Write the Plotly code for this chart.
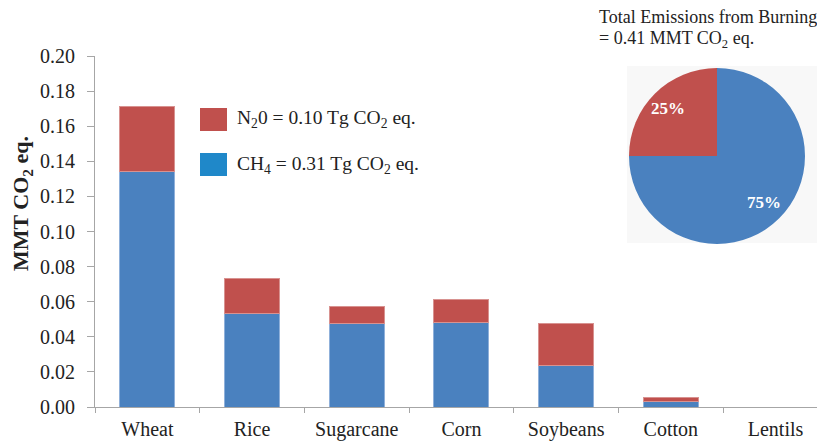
import plotly.graph_objects as go

crops = ["Wheat", "Rice", "Sugarcane", "Corn", "Soybeans", "Cotton", "Lentils"]
ch4 = [0.134, 0.0535, 0.0478, 0.0484, 0.0236, 0.0033, 0.0]
n2o = [0.0372, 0.0196, 0.0092, 0.0126, 0.0238, 0.0019, 0.0]
pie_labels = ["CH4", "N2O"]
pie_values = [75, 25]
yticks = [0.00, 0.02, 0.04, 0.06, 0.08, 0.10, 0.12, 0.14, 0.16, 0.18, 0.20]

BLUE = "#4A81BF"
RED = "#C0504D"
FONT = "Liberation Serif, Times New Roman, serif"
TXT = "#222222"

def px(x):
    return (x - 95) / 722

def py(y):
    return (407 - y) / 351

fig = go.Figure()
fig.add_trace(go.Bar(x=crops, y=ch4, name="CH4", marker=dict(color=BLUE, line=dict(color="#8FB0DA", width=1)), width=0.525))
fig.add_trace(go.Bar(x=crops, y=n2o, name="N2O", marker=dict(color=RED, line=dict(color="#D89290", width=1)), width=0.525))
fig.add_trace(go.Pie(labels=pie_labels, values=pie_values, sort=False, direction="clockwise", rotation=0,
                     marker=dict(colors=[BLUE, RED]), textinfo="none",
                     domain=dict(x=[px(629), px(805)], y=[py(244), py(68)]), showlegend=False,
                     hoverinfo="label+percent"))

# slice percentage labels (values from pie_values)
pie_label_pos = [(764, 203), (668, 109)]
pie_annots = [dict(text=f"<b>{v}%</b>", xref="paper", yref="paper", x=px(p[0]), y=py(p[1]),
                   xanchor="center", yanchor="middle", showarrow=False,
                   font=dict(family=FONT, size=17, color="white"))
              for v, p in zip(pie_values, pie_label_pos)]

fig.update_layout(
    barmode="stack",
    width=817, height=443,
    margin=dict(l=95, r=0, t=56, b=36),
    paper_bgcolor="white", plot_bgcolor="white",
    showlegend=False,
    font=dict(family=FONT, size=20, color=TXT),
    xaxis=dict(type="category", range=[-0.5, 6.396], showline=True, linecolor="#A6A6A6", linewidth=1,
               ticks="outside", tickson="boundaries", ticklen=5, tickcolor="#A6A6A6", automargin=False,
               ticklabelstandoff=4,
               tickfont=dict(family=FONT, size=20, color=TXT), showgrid=False),
    yaxis=dict(range=[0, 0.2], tickvals=yticks, ticktext=[f"{v:.2f}" for v in yticks],
               showline=True, linecolor="#A6A6A6", linewidth=1, ticks="outside", ticklen=7,
               tickcolor="#A6A6A6", showgrid=False, zeroline=False, automargin=False,
               ticklabelstandoff=8,
               tickfont=dict(family=FONT, size=20, color=TXT)),
    shapes=[
        dict(type="rect", xref="paper", yref="paper", x0=px(627), x1=1.0, y0=py(243), y1=py(66),
             fillcolor="#F8F8F8", line=dict(width=0), layer="below"),
        dict(type="rect", xref="paper", yref="paper", x0=px(200), x1=px(227),
             y0=py(131), y1=py(108), fillcolor="#C0504D", line=dict(width=0)),
        dict(type="rect", xref="paper", yref="paper", x0=px(200), x1=px(227),
             y0=py(176), y1=py(153), fillcolor="#1F88C9", line=dict(width=0)),
    ],
    annotations=[
        dict(text="N<sub>2</sub>0 = 0.10 Tg CO<sub>2</sub> eq.", xref="paper", yref="paper",
             x=px(235), y=py(119.5), xanchor="left", yanchor="middle", showarrow=False,
             font=dict(family=FONT, size=19.5, color=TXT)),
        dict(text="CH<sub>4</sub> = 0.31 Tg CO<sub>2</sub> eq.", xref="paper", yref="paper",
             x=px(235), y=py(164.5), xanchor="left", yanchor="middle", showarrow=False,
             font=dict(family=FONT, size=19.5, color=TXT)),
        dict(text="Total Emissions from Burning", xref="paper", yref="paper",
             x=px(597), y=py(17), xanchor="left", yanchor="middle", showarrow=False,
             font=dict(family=FONT, size=18, color=TXT)),
        dict(text="= 0.41 MMT CO<sub>2</sub> eq.", xref="paper", yref="paper",
             x=px(597), y=py(39), xanchor="left", yanchor="middle", showarrow=False,
             font=dict(family=FONT, size=18, color=TXT)),
        dict(text="<b>MMT CO<sub>2</sub> eq.</b>", xref="paper", yref="paper", textangle=-90,
             x=px(22), y=py(204), xanchor="center", yanchor="middle", showarrow=False,
             font=dict(family=FONT, size=22, color=TXT)),
    ] + pie_annots,
)

fig.write_html("out.html", config={"displayModeBar": False},
               post_script="document.body.style.margin='0';")
